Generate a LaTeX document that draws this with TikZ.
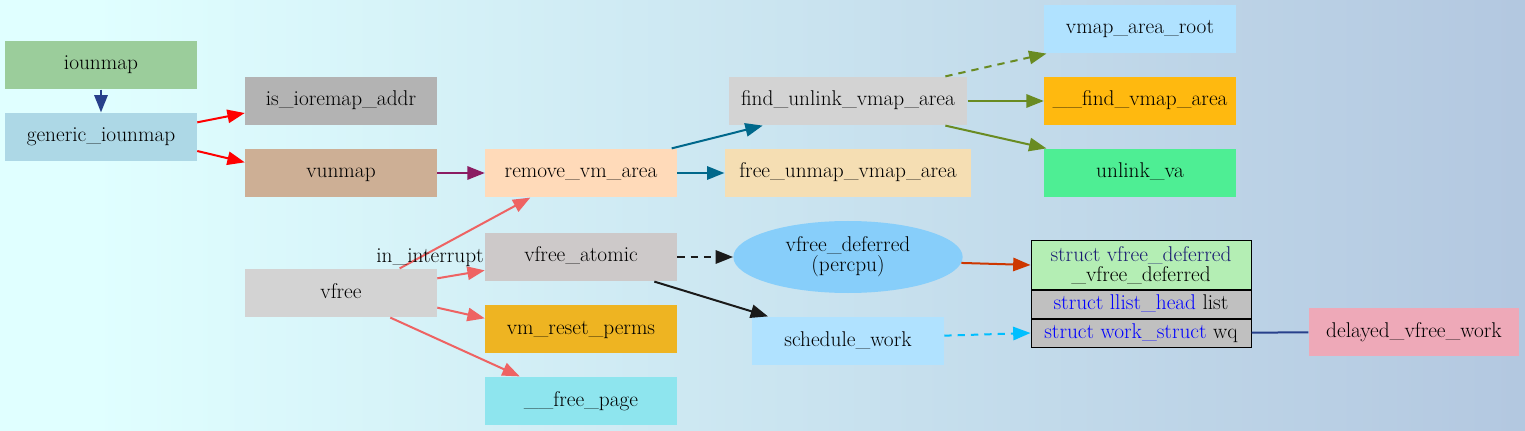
\documentclass[tikz,border=0pt]{standalone}
\usetikzlibrary{arrows.meta, shapes.geometric}

% background and node colours
\definecolor{bgleft}{HTML}{E0FFFF}
\definecolor{bgright}{HTML}{B0C4DE}
\definecolor{c-iou}{HTML}{9BCD9B}
\definecolor{c-gen}{HTML}{ADD8E6}
\definecolor{c-isio}{HTML}{B3B3B3}
\definecolor{c-vun}{HTML}{CDAF95}
\definecolor{c-rmva}{HTML}{FFDAB9}
\definecolor{c-vfree}{HTML}{D3D3D3}
\definecolor{c-vfat}{HTML}{CDC9C9}
\definecolor{c-vmrp}{HTML}{EEB422}
\definecolor{c-frpg}{HTML}{8EE5EE}
\definecolor{c-fuva}{HTML}{D3D3D3}
\definecolor{c-fumva}{HTML}{F5DEB3}
\definecolor{c-vdef}{HTML}{87CEFA}
\definecolor{c-schw}{HTML}{B0E2FF}
\definecolor{c-vroot}{HTML}{B0E2FF}
\definecolor{c-ffva}{HTML}{FFB90F}
\definecolor{c-unva}{HTML}{4EEE94}
\definecolor{c-rhead}{HTML}{B4EEB4}
\definecolor{c-rgrey}{HTML}{C0C0C0}
\definecolor{c-dvw}{HTML}{EEA9B8}
\definecolor{c-midblue}{HTML}{191970}
% edge colours
\definecolor{e-blue}{HTML}{27408B}
\definecolor{e-purple}{HTML}{8B1C62}
\definecolor{e-teal}{HTML}{00688B}
\definecolor{e-olive}{HTML}{698B22}
\definecolor{e-salmon}{HTML}{EE6363}
\definecolor{e-black}{HTML}{1A1A1A}
\definecolor{e-orange}{HTML}{CD3700}
\definecolor{e-sky}{HTML}{00BFFF}

\pgfdeclarehorizontalshading{bgshade}{100bp}{color(0bp)=(bgleft); color(28bp)=(bgleft); color(78bp)=(bgright); color(100bp)=(bgright)}

\begin{document}
\begin{tikzpicture}[x=0.75pt, y=-0.75pt,
    every node/.style={font=\fontsize{16}{15}\selectfont},
    fn/.style={rectangle, minimum width=144pt, minimum height=36.5pt, inner sep=2pt,
        text height=11pt, text depth=3.5pt},
    rec/.style={rectangle, draw=black, line width=0.75pt, minimum width=165pt, inner sep=1pt},
    arr/.style={-{Triangle[length=13pt, width=10pt]}, line width=1.5pt},
    dashline/.style={dash pattern=on 5.5pt off 4.5pt}]

    % background
    \fill[shading=bgshade] (0,0) rectangle (1525,431);
    \useasboundingbox (0,0) rectangle (1525,431);

    % iounmap side
    \node[fn, fill=c-iou] (iou) at (101,65) {iounmap};
    \node[fn, fill=c-gen] (gen) at (101,137) {generic\_iounmap};
    \node[fn, fill=c-isio] (isio) at (341,101) {is\_ioremap\_addr};
    \node[fn, fill=c-vun] (vun) at (341,173) {vunmap};
    \node[fn, fill=c-rmva] (rmva) at (581,173) {remove\_vm\_area};

    % vfree side
    \node[fn, fill=c-vfree] (vfree) at (341,293) {vfree};
    \node[fn, fill=c-vfat] (vfat) at (581,257) {vfree\_atomic};
    \node[fn, fill=c-vmrp] (vmrp) at (581,329) {vm\_reset\_perms};
    \node[fn, fill=c-frpg] (frpg) at (581,401) {\_\_free\_page};

    % third column
    \node[fn, fill=c-fuva, minimum width=179pt] (fuva) at (848,101) {find\_unlink\_vmap\_area};
    \node[fn, fill=c-fumva, minimum width=185pt] (fumva) at (848,173) {free\_unmap\_vmap\_area};
    \node[ellipse, fill=c-vdef, minimum width=172pt, minimum height=54pt, inner sep=0pt, align=center] (vdef) at (848,257) {vfree\_deferred\\(percpu)};
    \node[fn, fill=c-schw] (schw) at (848,341) {schedule\_work};

    % fourth column
    \node[fn, fill=c-vroot] (vroot) at (1140,29) {vmap\_area\_root};
    \node[fn, fill=c-ffva] (ffva) at (1140,101) {\_\_find\_vmap\_area};
    \node[fn, fill=c-unva] (unva) at (1140,173) {unlink\_va};

    % struct vfree_deferred record
    \node[rec, fill=c-rhead, minimum height=36pt, align=center] (rhead) at (1141,265) {\textcolor{c-midblue}{struct vfree\_deferred}\\\_vfree\_deferred};
    \node[rec, fill=c-rgrey, minimum height=21pt, anchor=north] (rlist) at (rhead.south) {\textcolor{blue}{struct llist\_head} list};
    \node[rec, fill=c-rgrey, minimum height=21pt, anchor=north] (rwq) at (rlist.south) {\textcolor{blue}{struct work\_struct} wq};
    \node[fn, fill=c-dvw, minimum width=158pt] (dvw) at (1414,332) {delayed\_vfree\_work};

    % edges from iounmap
    \draw[arr, e-blue] (iou) -- (gen);
    \draw[arr, red] ([yshift=11pt]gen.east) -- ([yshift=-9pt]isio.west);
    \draw[arr, red] ([yshift=-10.5pt]gen.east) -- ([yshift=8pt]vun.west);
    \draw[arr, e-purple] (vun) -- (rmva);
    \draw[arr, e-teal] ([xshift=68pt]rmva.north) -- ([xshift=-64pt]fuva.south);
    \draw[arr, e-teal] (rmva) -- (fumva);
    \draw[arr, e-olive, dashline] ([xshift=73pt]fuva.north) -- ([xshift=2pt]vroot.south west);
    \draw[arr, e-olive] (fuva) -- (ffva);
    \draw[arr, e-olive] ([xshift=73pt]fuva.south) -- ([xshift=2pt]unva.north west);

    % edges from vfree
    \draw[arr, e-salmon] ([xshift=44pt]vfree.north) -- ([xshift=-38pt]rmva.south);
    \draw[arr, e-salmon] ([yshift=11pt]vfree.east) -- ([yshift=-10pt]vfat.west)
        node[pos=1, anchor=south east, inner sep=0pt, yshift=2pt, text=black] (lbl) {in\_interrupt};
    \draw[arr, e-salmon] ([yshift=-11pt]vfree.east) -- ([yshift=8pt]vmrp.west);
    \draw[arr, e-salmon] ([xshift=37pt]vfree.south) -- ([xshift=-46pt]frpg.north);

    % deferred freeing
    \draw[arr, e-black, dashline] (vfat) -- (vdef);
    \draw[arr, e-black] ([xshift=55pt]vfat.south) -- ([xshift=-60pt]schw.north);
    \draw[arr, e-orange] (vdef.-3) -- (rhead.west);
    \draw[arr, e-sky, dashline] ([yshift=4pt]schw.east) -- (rwq.west);
    \draw[line width=1.5pt, e-blue] (rwq) -- (dvw);

\end{tikzpicture}
\end{document}
